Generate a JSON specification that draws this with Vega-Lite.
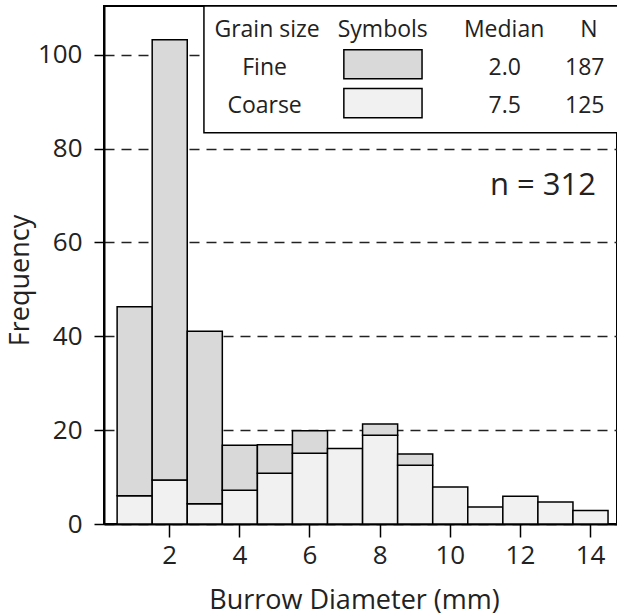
{
  "$schema": "https://vega.github.io/schema/vega-lite/v6.json",
  "width": 513,
  "height": 518,
  "autosize": {"type": "none"},
  "padding": {"left": 104, "top": 6, "right": 0, "bottom": 91},
  "background": "white",
  "config": {
    "font": "Open Sans",
    "view": {"stroke": "black", "strokeWidth": 2},
    "axis": {
      "domainColor": "black", "domainWidth": 2,
      "tickColor": "black", "tickWidth": 1.5,
      "labelColor": "#222", "labelFontSize": 26, "labelFont": "Open Sans",
      "titleColor": "#222", "titleFontSize": 27, "titleFont": "Open Sans", "titleFontWeight": "normal"
    }
  },
  "datasets": {
    "bins": [
      {"d0": 0.5, "d1": 1.5, "grain": "Coarse", "count": 6.0},
      {"d0": 0.5, "d1": 1.5, "grain": "Fine", "count": 40.3},
      {"d0": 1.5, "d1": 2.5, "grain": "Coarse", "count": 9.4},
      {"d0": 1.5, "d1": 2.5, "grain": "Fine", "count": 93.8},
      {"d0": 2.5, "d1": 3.5, "grain": "Coarse", "count": 4.3},
      {"d0": 2.5, "d1": 3.5, "grain": "Fine", "count": 36.8},
      {"d0": 3.5, "d1": 4.5, "grain": "Coarse", "count": 7.2},
      {"d0": 3.5, "d1": 4.5, "grain": "Fine", "count": 9.6},
      {"d0": 4.5, "d1": 5.5, "grain": "Coarse", "count": 10.8},
      {"d0": 4.5, "d1": 5.5, "grain": "Fine", "count": 6.1},
      {"d0": 5.5, "d1": 6.5, "grain": "Coarse", "count": 15.1},
      {"d0": 5.5, "d1": 6.5, "grain": "Fine", "count": 4.8},
      {"d0": 6.5, "d1": 7.5, "grain": "Coarse", "count": 16.1},
      {"d0": 7.5, "d1": 8.5, "grain": "Coarse", "count": 18.9},
      {"d0": 7.5, "d1": 8.5, "grain": "Fine", "count": 2.4},
      {"d0": 8.5, "d1": 9.5, "grain": "Coarse", "count": 12.5},
      {"d0": 8.5, "d1": 9.5, "grain": "Fine", "count": 2.4},
      {"d0": 9.5, "d1": 10.5, "grain": "Coarse", "count": 7.9},
      {"d0": 10.5, "d1": 11.5, "grain": "Coarse", "count": 3.6},
      {"d0": 11.5, "d1": 12.5, "grain": "Coarse", "count": 5.9},
      {"d0": 12.5, "d1": 13.5, "grain": "Coarse", "count": 4.7},
      {"d0": 13.5, "d1": 14.5, "grain": "Coarse", "count": 2.9}
    ],
    "one": [{}]
  },
  "layer": [
    {
      "data": {"name": "bins"},
      "mark": {"type": "bar", "stroke": "black", "strokeWidth": 1.5, "binSpacing": 0},
      "encoding": {
        "x": {
          "field": "d0", "type": "quantitative", "bin": "binned",
          "scale": {"domain": [0.14, 14.77], "nice": false, "zero": false},
          "axis": {
            "title": "Burrow Diameter (mm)", "values": [2, 4, 6, 8, 10, 12, 14],
            "tickSize": 13, "labelPadding": 5, "grid": false, "titlePadding": 19, "titleX": 250
          }
        },
        "x2": {"field": "d1"},
        "y": {
          "field": "count", "type": "quantitative", "stack": "zero",
          "scale": {"domain": [0, 110.4], "nice": false},
          "axis": {
            "title": "Frequency", "values": [0, 20, 40, 60, 80, 100],
            "tickSize": 10, "labelPadding": 12, "titlePadding": 3, "titleY": 274,
            "grid": true, "gridColor": "#222", "gridWidth": 1.6, "gridDash": [10, 7]
          }
        },
        "color": {
          "field": "grain", "type": "nominal",
          "scale": {"domain": ["Coarse", "Fine"], "range": ["#f1f1f1", "#d9d9d9"]},
          "legend": null
        },
        "order": {"field": "grain", "sort": "ascending"}
      }
    },
    {
      "data": {"name": "one"},
      "mark": {"type": "rect", "fill": "white", "stroke": "black", "strokeWidth": 1.5},
      "encoding": {
        "x": {"datum": 2.99, "type": "quantitative"},
        "x2": {"datum": 14.9},
        "y": {"datum": 83.4, "type": "quantitative"},
        "y2": {"datum": 110.4}
      }
    },
    {
      "data": {"name": "one"},
      "mark": {"type": "rect", "fill": "#d9d9d9", "stroke": "black", "strokeWidth": 1.5},
      "encoding": {
        "x": {"datum": 6.98, "type": "quantitative"},
        "x2": {"datum": 9.21},
        "y": {"datum": 94.9, "type": "quantitative"},
        "y2": {"datum": 101.1}
      }
    },
    {
      "data": {"name": "one"},
      "mark": {"type": "rect", "fill": "#f1f1f1", "stroke": "black", "strokeWidth": 1.5},
      "encoding": {
        "x": {"datum": 6.98, "type": "quantitative"},
        "x2": {"datum": 9.21},
        "y": {"datum": 86.6, "type": "quantitative"},
        "y2": {"datum": 92.8}
      }
    },
    {
      "data": {"name": "one"},
      "mark": {"type": "text", "fontSize": 23, "font": "Open Sans", "color": "#222", "align": "center", "baseline": "alphabetic"},
      "encoding": {"x": {"datum": 4.79, "type": "quantitative"}, "y": {"datum": 103.8, "type": "quantitative"}, "text": {"value": "Grain size"}}
    },
    {
      "data": {"name": "one"},
      "mark": {"type": "text", "fontSize": 23, "font": "Open Sans", "color": "#222", "align": "center", "baseline": "alphabetic"},
      "encoding": {"x": {"datum": 8.09, "type": "quantitative"}, "y": {"datum": 103.8, "type": "quantitative"}, "text": {"value": "Symbols"}}
    },
    {
      "data": {"name": "one"},
      "mark": {"type": "text", "fontSize": 23, "font": "Open Sans", "color": "#222", "align": "center", "baseline": "alphabetic"},
      "encoding": {"x": {"datum": 11.55, "type": "quantitative"}, "y": {"datum": 103.8, "type": "quantitative"}, "text": {"value": "Median"}}
    },
    {
      "data": {"name": "one"},
      "mark": {"type": "text", "fontSize": 23, "font": "Open Sans", "color": "#222", "align": "center", "baseline": "alphabetic"},
      "encoding": {"x": {"datum": 13.97, "type": "quantitative"}, "y": {"datum": 103.8, "type": "quantitative"}, "text": {"value": "N"}}
    },
    {
      "data": {"name": "one"},
      "mark": {"type": "text", "fontSize": 23, "font": "Open Sans", "color": "#222", "align": "center", "baseline": "alphabetic"},
      "encoding": {"x": {"datum": 4.72, "type": "quantitative"}, "y": {"datum": 95.7, "type": "quantitative"}, "text": {"value": "Fine"}}
    },
    {
      "data": {"name": "one"},
      "mark": {"type": "text", "fontSize": 23, "font": "Open Sans", "color": "#222", "align": "center", "baseline": "alphabetic"},
      "encoding": {"x": {"datum": 11.57, "type": "quantitative"}, "y": {"datum": 95.7, "type": "quantitative"}, "text": {"value": "2.0"}}
    },
    {
      "data": {"name": "one"},
      "mark": {"type": "text", "fontSize": 23, "font": "Open Sans", "color": "#222", "align": "center", "baseline": "alphabetic"},
      "encoding": {"x": {"datum": 13.85, "type": "quantitative"}, "y": {"datum": 95.7, "type": "quantitative"}, "text": {"value": "187"}}
    },
    {
      "data": {"name": "one"},
      "mark": {"type": "text", "fontSize": 23, "font": "Open Sans", "color": "#222", "align": "center", "baseline": "alphabetic"},
      "encoding": {"x": {"datum": 4.72, "type": "quantitative"}, "y": {"datum": 87.7, "type": "quantitative"}, "text": {"value": "Coarse"}}
    },
    {
      "data": {"name": "one"},
      "mark": {"type": "text", "fontSize": 23, "font": "Open Sans", "color": "#222", "align": "center", "baseline": "alphabetic"},
      "encoding": {"x": {"datum": 11.57, "type": "quantitative"}, "y": {"datum": 87.7, "type": "quantitative"}, "text": {"value": "7.5"}}
    },
    {
      "data": {"name": "one"},
      "mark": {"type": "text", "fontSize": 23, "font": "Open Sans", "color": "#222", "align": "center", "baseline": "alphabetic"},
      "encoding": {"x": {"datum": 13.85, "type": "quantitative"}, "y": {"datum": 87.7, "type": "quantitative"}, "text": {"value": "125"}}
    },
    {
      "data": {"name": "one"},
      "mark": {"type": "text", "fontSize": 31, "font": "Open Sans", "color": "#222", "align": "center", "baseline": "alphabetic"},
      "encoding": {"x": {"datum": 12.66, "type": "quantitative"}, "y": {"datum": 70.1, "type": "quantitative"}, "text": {"value": "n = 312"}}
    }
  ]
}
